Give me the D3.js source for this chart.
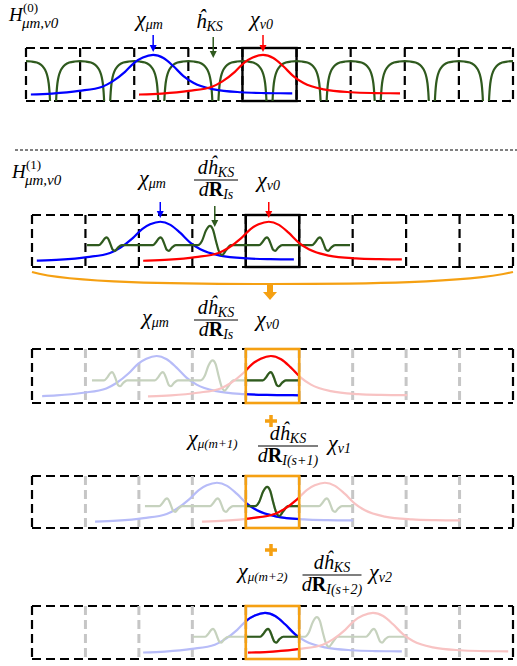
<!DOCTYPE html>
<html><head><meta charset="utf-8">
<script src="https://cdn.jsdelivr.net/npm/d3@7"></script>
<style>html,body{margin:0;padding:0;background:#fff;} svg{display:block;}</style>
</head><body>
<script>
// ---------------- DATA (cell units along each strip, heights as fraction of strip) ----------------
const peakShape = [[-2.8,0.11],[-2.36,0.12],[-1.87,0.14],[-1.37,0.19],[-0.94,0.27],[-0.75,0.37],[-0.52,0.55],[-0.34,0.73],[-0.19,0.82],[0,0.87],[0.19,0.81],[0.37,0.66],[0.56,0.47],[0.75,0.34],[1.12,0.22],[1.63,0.165],[2.06,0.15],[2.51,0.145],[2.9,0.14]];
const smallWiggle = [[-0.15,0],[-0.094,0.05],[-0.037,0.13],[0,0.15],[0.037,0.1],[0.075,0],[0.112,-0.09],[0.15,-0.11],[0.206,-0.05],[0.28,0]];
const bigWiggle = [[-0.225,0],[-0.15,0.08],[-0.075,0.28],[0,0.37],[0.056,0.3],[0.112,0.08],[0.169,-0.12],[0.225,-0.19],[0.3,-0.1],[0.39,0]];
const arcShape = [[-0.444,0],[-0.435,0.16],[-0.42,0.33],[-0.40,0.45],[-0.37,0.55],[-0.333,0.62],[-0.28,0.68],[-0.2,0.725],[-0.1,0.745],[0,0.752],[0.1,0.745],[0.2,0.725],[0.28,0.68],[0.333,0.62],[0.37,0.55],[0.40,0.45],[0.42,0.33],[0.435,0.16],[0.444,0]];
const arcCenters = [0,1,2,3,4,5,6,7,8,9];
const cellBoundaries = [0,1,2,3,4,5,6,7,8,9];

const bluePeaks  = [2.35, 2.40, 2.33, 3.46, 4.36];
const blueRanges = [[0.09,4.92],[0.09,4.90],[0.19,5.0],[1.18,6.01],[2.08,6.92]];
const redPeaks   = [4.38, 4.43, 4.47, 5.48, 6.38];
const redRanges  = [[2.09,6.91],[2.08,6.92],[2.17,7.02],[3.18,8.01],[4.04,8.91]];
const greenBase  = 0.42;
const greenRanges = [null,[1.03,5.95],[1.12,5.0],[2.11,6.01],[3.01,6.98]];
const greenWiggles = [null,
  [[1.40,"s"],[2.41,"s"],[3.33,"b"],[4.40,"s"],[5.39,"s"]],
  [[1.50,"s"],[2.45,"s"],[3.38,"b"],[4.47,"s"]],
  [[2.53,"s"],[3.48,"s"],[4.40,"b"],[5.52,"s"]],
  [[3.39,"s"],[4.42,"s"],[5.33,"b"],[6.40,"s"]]];
const arrowsP1 = [[2.35,"blue"],[3.46,"green"],[4.38,"red"]];
const arrowsP2 = [[2.40,"blue"],[3.42,"green"],[4.43,"red"]];

const hLabels = [["H","(0)","μm,ν0"],["H","(1)","μm,ν0"]];
const chiMu = ["μm","μm","μm","μ(m+1)","μ(m+2)"];
const chiNu = ["ν0","ν0","ν0","ν1","ν2"];
const hatLabel = ["ĥ","KS"];
const fracSubs = [null,"Is","Is","I(s+1)","I(s+2)"];

// ---------------- STYLE / LAYOUT ----------------
const W = 517, H = 666;
const C = {blue:"#0000ff", red:"#ff0000", green:"#2f5a1e",
  fblue:"#b7bcf8", fred:"#f8c3c3", fgreen:"#c6d2be", orange:"#f5a012", gray:"#c6c6c6"};
const geom = [
  {x0:26,x1:513,top:48,bottom:101},
  {x0:32,x1:513,top:215,bottom:267},
  {x0:32,x1:513,top:349,bottom:403},
  {x0:32,x1:513,top:476,bottom:528},
  {x0:32,x1:513,top:606,bottom:659}];
const FONT = "'Liberation Serif','Times New Roman',serif";

const svg = d3.select("body").append("svg").attr("width",W).attr("height",H)
  .style("font-family",FONT);
const defs = svg.append("defs");
let clipId = 0;
function clipRect(x,y,w,h){
  const id = "c"+(clipId++);
  defs.append("clipPath").attr("id",id).append("rect").attr("x",x).attr("y",y).attr("width",w).attr("height",h);
  return "url(#"+id+")";
}

geom.forEach((g,i)=>{
  g.xs = d3.scaleLinear().domain([0,9]).range([g.x0,g.x1]);
  g.ys = d3.scaleLinear().domain([0,1]).range([g.bottom,g.top]);
  g.line = d3.line().x(d=>g.xs(d[0])).y(d=>g.ys(d[1])).curve(d3.curveMonotoneX);
  g.arcLine = d3.line().x(d=>g.xs(d[0])).y(d=>g.ys(d[1])).curve(d3.curveCatmullRom.alpha(0.5));
});

function shifted(template, c, base){ return template.map(d=>[c+d[0], (base||0)+d[1]]); }
function greenPts(i){
  const r = greenRanges[i];
  let pts = [[r[0],greenBase]];
  greenWiggles[i].forEach(w=>{ pts = pts.concat(shifted(w[1]==="b"?bigWiggle:smallWiggle, w[0], greenBase)); });
  pts.push([r[1],greenBase]);
  return pts;
}

function drawCurve(g, parent, pts, range, color, width){
  const gg = parent.append("g").attr("clip-path", clipRect(g.xs(range[0]),0,g.xs(range[1])-g.xs(range[0]),H));
  gg.append("path").attr("d",g.line(pts)).attr("fill","none").attr("stroke",color)
    .attr("stroke-width",width||2.2).attr("stroke-linejoin","round");
}

function hline(x1,x2,y,color,w,dash){
  const l = svg.append("line").attr("x1",x1).attr("x2",x2).attr("y1",y).attr("y2",y)
    .attr("stroke",color).attr("stroke-width",w);
  if(dash) l.attr("stroke-dasharray",dash);
  return l;
}
function vline(x,y1,y2,color,w,dash){
  const l = svg.append("line").attr("x1",x).attr("x2",x).attr("y1",y1).attr("y2",y2)
    .attr("stroke",color).attr("stroke-width",w);
  if(dash) l.attr("stroke-dasharray",dash);
  return l;
}

function drawBox(g, innerColor, innerW){
  hline(g.x0,g.x1,g.top,"#000",2.2,"9,5");
  hline(g.x0,g.x1,g.bottom,"#000",2.2,"9,5");
  vline(g.x0,g.top,g.bottom,"#000",2.2,"9,5");
  vline(g.x1,g.top,g.bottom,"#000",2.2,"9,5");
  cellBoundaries.slice(1,9).forEach(b=>{
    vline(g.xs(b),g.top,g.bottom,innerColor,innerW,"9,5");
  });
}

function arrow(x,y1,y2,color){
  svg.append("line").attr("x1",x).attr("x2",x).attr("y1",y1).attr("y2",y2-5)
    .attr("stroke",color).attr("stroke-width",1.5);
  svg.append("path").attr("d",`M${x-3.5},${y2-7}L${x+3.5},${y2-7}L${x},${y2}Z`).attr("fill",color);
}

// text helpers
function sym(x,y,main,sub,fs,ss,subDy){
  const t = svg.append("text").attr("x",x).attr("y",y).attr("font-style","italic").attr("font-size",fs);
  t.append("tspan").text(main);
  if(sub) t.append("tspan").attr("font-size",ss).attr("dy",subDy).text(sub);
  return t;
}
function hLabel(x,y,lab){
  svg.append("text").attr("x",x).attr("y",y).attr("font-style","italic").attr("font-size",19).text(lab[0]);
  svg.append("text").attr("x",x+14).attr("y",y-9).attr("font-size",13).text(lab[1]);
  svg.append("text").attr("x",x+13).attr("y",y+7).attr("font-style","italic").attr("font-size",15).text(lab[2]);
}
function frac(cx,by,w,sub){
  hline(cx-w/2,cx+w/2,by,"#000",1.2);
  const n = svg.append("text").attr("x",cx).attr("y",by-6).attr("text-anchor","middle").attr("font-size",20).attr("font-style","italic");
  n.append("tspan").text("d"+hatLabel[0]);
  n.append("tspan").attr("font-size",14).attr("dy",3).text(hatLabel[1]);
  const d = svg.append("text").attr("x",cx).attr("y",by+16).attr("text-anchor","middle").attr("font-size",20);
  d.append("tspan").attr("font-style","italic").text("d");
  d.append("tspan").attr("font-weight","bold").text("R");
  d.append("tspan").attr("font-style","italic").attr("font-size",14).attr("dy",3).text(sub);
}
function plus(cx,cy){
  svg.append("path").attr("d",`M${cx-6},${cy}H${cx+6}M${cx},${cy-6}V${cy+6}`)
    .attr("stroke",C.orange).attr("stroke-width",3.5);
}

// ---------------- PANEL 1 ----------------
{
  const g = geom[0];
  drawBox(g,"#000",2.2);
  svg.append("rect").attr("x",g.xs(4)).attr("y",g.top).attr("width",g.xs(5)-g.xs(4)).attr("height",g.bottom-g.top)
    .attr("fill","none").attr("stroke","#000").attr("stroke-width",2.4);
  const ag = svg.append("g").attr("clip-path",clipRect(g.x0,0,g.x1-g.x0,H));
  arcCenters.forEach(c=>{
    ag.append("path").attr("d",g.arcLine(shifted(arcShape,c))).attr("fill","none").attr("stroke",C.green).attr("stroke-width",2.2);
  });
  drawCurve(g,svg,shifted(peakShape,bluePeaks[0]),blueRanges[0],C.blue);
  drawCurve(g,svg,shifted(peakShape,redPeaks[0]),redRanges[0],C.red);
  arrowsP1.forEach(a=>{
    const col = C[a[1]];
    if(a[1]==="green") arrow(g.xs(a[0]),37,58,col); else arrow(g.xs(a[0]),35,52,col);
  });
  hLabel(9,21,hLabels[0]);
  sym(136,26,"χ",chiMu[0],22,14,3);
  sym(196,28,hatLabel[0],hatLabel[1],21,14,3);
  sym(250,26,"χ",chiNu[0],22,14,3);
}

// separator
hline(15,517,150,"#000",1,"3,2");

// ---------------- PANEL 2 ----------------
{
  const g = geom[1];
  drawBox(g,"#000",2.2);
  svg.append("rect").attr("x",g.xs(4)).attr("y",g.top).attr("width",g.xs(5)-g.xs(4)).attr("height",g.bottom-g.top)
    .attr("fill","none").attr("stroke","#000").attr("stroke-width",2.4);
  drawCurve(g,svg,shifted(peakShape,bluePeaks[1]),blueRanges[1],C.blue);
  drawCurve(g,svg,greenPts(1),greenRanges[1],C.green);
  drawCurve(g,svg,shifted(peakShape,redPeaks[1]),redRanges[1],C.red);
  arrowsP2.forEach(a=>{
    const col = C[a[1]];
    if(a[1]==="green") arrow(g.xs(a[0]),206,227,col); else arrow(g.xs(a[0]),202,218,col);
  });
  hLabel(12,178,hLabels[1]);
  sym(139,185,"χ",chiMu[1],22,14,3);
  frac(216,180,44,fracSubs[1]);
  sym(257,187,"χ",chiNu[1],22,14,3);

  // orange brace + arrow
  svg.append("path").attr("d","M32,272 C70,283 180,284 270,284 C360,284 470,283 513,272")
    .attr("fill","none").attr("stroke",C.orange).attr("stroke-width",2.2);
  svg.append("path").attr("d","M267,285H273V292H277L270,300L263,292H267Z").attr("fill",C.orange);
}

// ---------------- PANELS 3-5 ----------------
[2,3,4].forEach(i=>{
  const g = geom[i];
  drawBox(g,C.gray,3);
  const curves = [
    [shifted(peakShape,bluePeaks[i]),blueRanges[i],C.fblue,C.blue],
    [greenPts(i),greenRanges[i],C.fgreen,C.green],
    [shifted(peakShape,redPeaks[i]),redRanges[i],C.fred,C.red]];
  curves.forEach(c=>drawCurve(g,svg,c[0],c[1],c[2]));
  const boxClip = svg.append("g").attr("clip-path",clipRect(g.xs(4),0,g.xs(5)-g.xs(4),H));
  curves.forEach(c=>drawCurve(g,boxClip,c[0],c[1],c[3]));
  svg.append("rect").attr("x",g.xs(4)).attr("y",g.top).attr("width",g.xs(5)-g.xs(4)).attr("height",g.bottom-g.top)
    .attr("fill","none").attr("stroke",C.orange).attr("stroke-width",2.6);
});

// labels panel 3
sym(142,324,"χ",chiMu[2],22,14,3);
frac(216,320,44,fracSubs[2]);
sym(256,326,"χ",chiNu[2],22,14,3);
// panel 4
plus(271,421);
sym(188,445,"χ",chiMu[3],22,13,3);
frac(288,446,60,fracSubs[3]);
sym(328,450,"χ",chiNu[3],22,14,3);
// panel 5
plus(271,550);
sym(238,578,"χ",chiMu[4],22,13,3);
frac(332,575,59,fracSubs[4]);
sym(369,579,"χ",chiNu[4],22,14,3);
</script>
</body></html>
